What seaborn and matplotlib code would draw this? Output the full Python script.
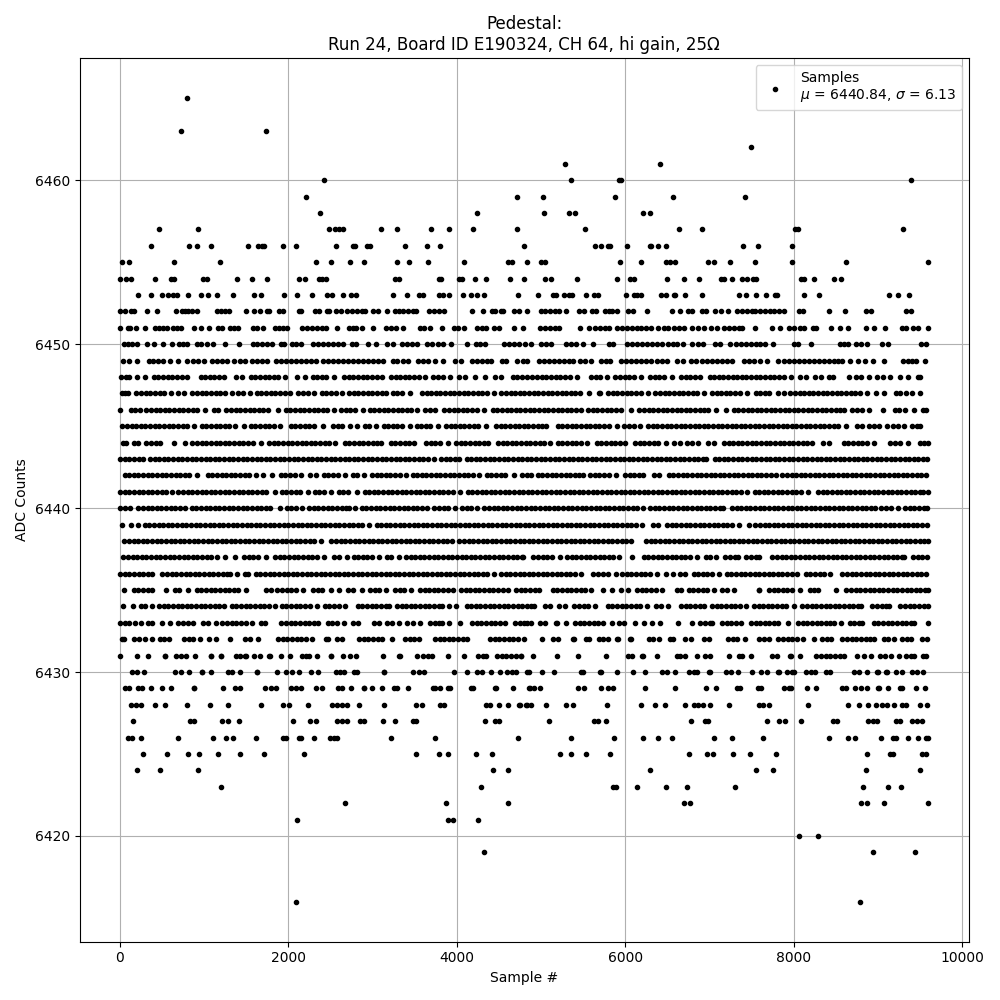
import matplotlib
matplotlib.use('Agg')
import matplotlib.pyplot as plt
import pandas as pd
import seaborn as sns

# sample numbers, one list per ADC level
adc_6465 = [800]
adc_6463 = [728, 1738]
adc_6462 = [7488]
adc_6461 = [5290, 6419]
adc_6460 = [2427, 5362, 5928, 5952, 9389]
adc_6459 = [2213, 4720, 5029, 5885, 6562, 7417]
adc_6458 = [2380, 4245, 5041, 5338, 5409, 6217, 6300]
adc_6457 = [467, 930, 2486, 2558, 2600, 2653, 3104, 3294, 3698, 3912, 4197, 4720, 5528, 6633, 6906, 8011, 8047, 9294]
adc_6456 = [372, 823, 918, 1085, 1524, 1643, 1690, 1714, 1940, 2094, 2570, 2772, 2795, 2938, 2974, 3389, 3651, 3805, 4803, 5647, 5718, 5801, 5825, 6027, 6300, 6312, 6395, 6479, 7393, 7571, 7975]
adc_6455 = [27, 110, 645, 1192, 2332, 2510, 2736, 2902, 3294, 3437, 3663, 4090, 4613, 4661, 4839, 5005, 5053, 5944, 6193, 6490, 6538, 6597, 6978, 7049, 7239, 7536, 7975, 8617, 9600]
adc_6454 = [4, 75, 134, 419, 609, 645, 990, 1037, 1394, 1572, 1750, 2130, 2201, 2368, 2403, 2451, 3271, 3318, 3793, 3817, 4031, 4067, 4221, 4352, 4637, 4803, 5053, 5124, 5433, 5908, 6063, 6110, 6502, 6704, 6871, 7140, 7176, 7263, 7381, 7445, 7512, 7548, 8090, 8125, 8237, 8474, 8558]
adc_6453 = [217, 372, 503, 574, 633, 681, 811, 966, 1049, 1156, 1346, 1596, 1679, 1952, 2106, 2285, 2463, 2522, 2653, 2748, 2807, 3247, 3413, 3556, 3603, 3793, 3841, 3912, 4078, 4173, 4245, 4328, 4732, 4970, 5148, 5184, 5279, 5338, 5374, 5540, 5635, 5683, 6015, 6110, 6146, 6193, 6431, 6490, 6574, 6597, 6716, 6906, 7346, 7429, 7548, 7667, 7773, 7797, 8118, 8296, 9128, 9235, 9365]
adc_6452 = [4, 63, 134, 170, 324, 443, 669, 740, 776, 811, 859, 918, 1156, 1203, 1251, 1298, 1500, 1596, 1667, 1750, 1774, 1892, 1940, 2130, 2154, 2320, 2368, 2463, 2486, 2570, 2629, 2700, 2760, 2820, 2879, 2914, 3009, 3069, 3175, 3271, 3318, 3366, 3425, 3484, 3520, 3674, 3734, 3793, 3853, 4185, 4316, 4423, 4451, 4522, 4554, 4684, 4744, 4839, 5005, 5053, 5112, 5172, 5219, 5302, 5457, 5516, 5611, 5659, 5766, 5813, 5849, 5908, 6039, 6098, 6265, 6550, 6645, 6740, 6799, 6906, 6954, 7061, 7132, 7215, 7326, 7385, 7445, 7504, 7536, 7595, 7655, 7714, 7762, 7821, 7880, 8059, 8106, 8415, 8605, 8855, 8914, 9330, 9389]
adc_6451 = [4, 99, 122, 194, 300, 419, 467, 514, 562, 633, 681, 728, 883, 966, 1061, 1168, 1215, 1310, 1358, 1405, 1584, 1631, 1702, 1845, 1892, 1940, 1984, 2166, 2225, 2285, 2344, 2403, 2455, 2582, 2724, 2772, 2807, 2879, 3009, 3164, 3223, 3282, 3366, 3568, 3615, 3686, 3829, 3971, 4019, 4090, 4237, 4296, 4344, 4447, 4506, 4684, 4791, 4994, 5053, 5112, 5172, 5219, 5465, 5576, 5647, 5706, 5766, 5813, 5908, 5968, 6027, 6087, 6146, 6193, 6253, 6312, 6395, 6455, 6514, 6574, 6633, 6704, 6799, 6859, 6930, 7013, 7084, 7168, 7227, 7286, 7346, 7385, 7536, 7738, 7833, 7940, 7999, 8071, 8118, 8225, 8261, 8447, 8546, 8641, 8855, 8950, 9080, 9282, 9330, 9417, 9476, 9600]
adc_6450 = [51, 99, 146, 205, 324, 407, 514, 621, 705, 752, 800, 918, 966, 1037, 1108, 1251, 1417, 1584, 1631, 1690, 1750, 1809, 1916, 1952, 2047, 2094, 2154, 2296, 2356, 2415, 2475, 2534, 2593, 2653, 2760, 2807, 2950, 3045, 3175, 3247, 3354, 3413, 3473, 3532, 3651, 3710, 3781, 3841, 3936, 4126, 4233, 4280, 4340, 4565, 4625, 4684, 4744, 4815, 4887, 5005, 5065, 5124, 5302, 5362, 5421, 5504, 5623, 5813, 5861, 6027, 6087, 6146, 6205, 6265, 6324, 6383, 6443, 6514, 6562, 6621, 6692, 6799, 6859, 6918, 7061, 7120, 7239, 7310, 7370, 7429, 7488, 7548, 7595, 7655, 7750, 7999, 8047, 8201, 8546, 8593, 8641, 8736, 8795, 8866, 9045, 9116, 9508, 9567]
adc_6449 = [39, 110, 205, 348, 396, 455, 514, 598, 693, 800, 871, 930, 1001, 1097, 1156, 1215, 1275, 1358, 1429, 1489, 1572, 1631, 1690, 1750, 1853, 1912, 1972, 2031, 2090, 2150, 2209, 2269, 2328, 2415, 2475, 2534, 2593, 2653, 2712, 2772, 2831, 2890, 2950, 3009, 3069, 3128, 3247, 3294, 3366, 3425, 3544, 3603, 3663, 3746, 3841, 3983, 4055, 4185, 4245, 4304, 4364, 4403, 4542, 4589, 4720, 4791, 4839, 4982, 5041, 5100, 5160, 5219, 5279, 5338, 5386, 5469, 5528, 5599, 5718, 5778, 5825, 5956, 6015, 6075, 6134, 6193, 6253, 6312, 6383, 6443, 6502, 6621, 6681, 6776, 6835, 6906, 6966, 7025, 7084, 7144, 7203, 7263, 7405, 7465, 7524, 7595, 7686, 7809, 7880, 7940, 7999, 8059, 8118, 8177, 8237, 8296, 8356, 8415, 8474, 8522, 8570, 8665, 8760, 8843, 8938, 9068, 9294, 9354, 9401, 9453, 9555]
adc_6448 = [20, 70, 110, 205, 300, 405, 460, 515, 570, 625, 680, 735, 805, 962, 1015, 1070, 1125, 1180, 1240, 1382, 1453, 1556, 1610, 1665, 1720, 1775, 1830, 1885, 1965, 2100, 2201, 2290, 2345, 2400, 2450, 2548, 2665, 2720, 2775, 2830, 2885, 2940, 2995, 3050, 3115, 3220, 3275, 3330, 3385, 3440, 3495, 3550, 3630, 3722, 3780, 3835, 3925, 4032, 4105, 4221, 4332, 4459, 4521, 4665, 4720, 4775, 4840, 4900, 4955, 5010, 5065, 5120, 5175, 5230, 5285, 5340, 5432, 5596, 5650, 5705, 5780, 5885, 5940, 5995, 6050, 6105, 6192, 6297, 6350, 6405, 6461, 6554, 6665, 6720, 6775, 6830, 6889, 7002, 7055, 7110, 7165, 7220, 7275, 7330, 7385, 7440, 7495, 7550, 7605, 7660, 7715, 7770, 7825, 7880, 7967, 8080, 8144, 8250, 8330, 8420, 8461, 8653, 8744, 8800, 8897, 8990, 9055, 9140, 9266, 9354, 9477, 9500]
adc_6447 = [25, 60, 105, 198, 255, 310, 365, 420, 475, 530, 608, 689, 767, 863, 918, 973, 1028, 1083, 1138, 1193, 1248, 1333, 1410, 1465, 1544, 1628, 1683, 1738, 1793, 1848, 1903, 1958, 2026, 2122, 2177, 2232, 2303, 2400, 2455, 2510, 2565, 2639, 2724, 2779, 2834, 2889, 2944, 2999, 3054, 3109, 3166, 3239, 3294, 3349, 3443, 3588, 3643, 3698, 3753, 3808, 3863, 3918, 3973, 4028, 4083, 4138, 4193, 4248, 4303, 4358, 4441, 4530, 4585, 4640, 4695, 4750, 4805, 4860, 4915, 4970, 5025, 5080, 5135, 5190, 5245, 5300, 5355, 5410, 5465, 5570, 5687, 5697, 5798, 5853, 5908, 5963, 6018, 6073, 6128, 6183, 6271, 6360, 6415, 6470, 6525, 6580, 6635, 6690, 6745, 6800, 6855, 6937, 7029, 7084, 7139, 7194, 7249, 7304, 7359, 7451, 7548, 7603, 7658, 7713, 7808, 7880, 7960, 8015, 8070, 8125, 8180, 8235, 8290, 8345, 8400, 8455, 8510, 8565, 8620, 8675, 8730, 8785, 8865, 8974, 9075, 9211, 9266, 9332, 9405, 9504]
adc_6446 = [4, 131, 186, 244, 317, 372, 427, 482, 537, 592, 647, 702, 757, 812, 867, 922, 1016, 1121, 1163, 1267, 1322, 1377, 1432, 1487, 1542, 1597, 1652, 1707, 1762, 1875, 1972, 2027, 2082, 2137, 2192, 2247, 2302, 2357, 2412, 2467, 2548, 2629, 2684, 2739, 2794, 2889, 2970, 3025, 3080, 3135, 3190, 3245, 3300, 3355, 3410, 3459, 3532, 3627, 3680, 3748, 3853, 3908, 3963, 4018, 4073, 4128, 4183, 4238, 4323, 4427, 4482, 4537, 4592, 4647, 4702, 4757, 4812, 4867, 4922, 4977, 5032, 5087, 5142, 5197, 5252, 5307, 5362, 5417, 5479, 5560, 5615, 5670, 5725, 5780, 5835, 5890, 5945, 6073, 6170, 6225, 6280, 6335, 6390, 6445, 6500, 6555, 6610, 6665, 6720, 6775, 6830, 6885, 6940, 6984, 7081, 7194, 7287, 7342, 7397, 7452, 7507, 7562, 7617, 7672, 7727, 7782, 7837, 7892, 7947, 8002, 8057, 8112, 8167, 8222, 8277, 8332, 8387, 8442, 8497, 8552, 8600, 8696, 8751, 8806, 8897, 9064, 9200, 9255, 9324, 9425, 9536, 9570]
adc_6445 = [32, 87, 142, 197, 252, 307, 362, 417, 472, 527, 582, 637, 692, 747, 802, 877, 974, 1029, 1084, 1139, 1194, 1249, 1304, 1372, 1477, 1556, 1611, 1666, 1721, 1776, 1831, 1907, 2032, 2087, 2142, 2197, 2252, 2307, 2414, 2534, 2589, 2644, 2739, 2819, 2907, 2962, 3040, 3132, 3187, 3242, 3297, 3352, 3443, 3524, 3579, 3634, 3689, 3776, 3873, 3928, 3983, 4038, 4093, 4148, 4203, 4258, 4354, 4467, 4522, 4577, 4632, 4687, 4742, 4797, 4852, 4907, 4962, 5017, 5056, 5200, 5255, 5310, 5365, 5420, 5475, 5530, 5585, 5640, 5695, 5750, 5805, 5899, 5992, 6047, 6102, 6172, 6273, 6328, 6383, 6438, 6493, 6548, 6603, 6658, 6713, 6768, 6823, 6878, 6933, 6988, 7043, 7098, 7153, 7208, 7263, 7318, 7373, 7428, 7483, 7538, 7593, 7648, 7703, 7758, 7813, 7868, 7923, 7978, 8033, 8088, 8143, 8198, 8253, 8308, 8363, 8418, 8473, 8528, 8620, 8756, 8814, 8895, 8950, 9015, 9108, 9180, 9235, 9312, 9409, 9464, 9503]
adc_6444 = [44, 77, 170, 224, 317, 372, 427, 482, 640, 772, 863, 918, 973, 1028, 1083, 1138, 1193, 1248, 1303, 1358, 1413, 1468, 1523, 1578, 1677, 1774, 1829, 1884, 1939, 1994, 2049, 2104, 2159, 2214, 2269, 2324, 2379, 2434, 2489, 2560, 2673, 2728, 2783, 2838, 2893, 2948, 3003, 3058, 3103, 3219, 3274, 3329, 3384, 3439, 3499, 3635, 3690, 3745, 3800, 3895, 3992, 4047, 4102, 4157, 4212, 4267, 4322, 4370, 4490, 4545, 4600, 4655, 4710, 4765, 4820, 4875, 4930, 4985, 5040, 5107, 5200, 5255, 5310, 5365, 5420, 5475, 5551, 5663, 5718, 5773, 5828, 5883, 5938, 6002, 6119, 6174, 6229, 6284, 6339, 6394, 6489, 6578, 6648, 6736, 6791, 6869, 6986, 7055, 7172, 7227, 7282, 7337, 7392, 7447, 7502, 7557, 7612, 7667, 7722, 7777, 7832, 7887, 7942, 7997, 8052, 8107, 8162, 8212, 8348, 8422, 8594, 8649, 8704, 8759, 8814, 8869, 8948, 9148, 9203, 9258, 9360, 9496, 9551, 9590]
adc_6443 = [5, 60, 115, 170, 225, 272, 360, 415, 470, 525, 580, 635, 690, 745, 800, 855, 910, 965, 1020, 1075, 1130, 1185, 1240, 1295, 1350, 1405, 1460, 1515, 1570, 1625, 1680, 1735, 1790, 1845, 1900, 1955, 2010, 2065, 2120, 2175, 2230, 2285, 2340, 2395, 2450, 2505, 2560, 2615, 2670, 2725, 2780, 2835, 2890, 2945, 3000, 3055, 3110, 3165, 3220, 3275, 3330, 3385, 3440, 3495, 3550, 3605, 3660, 3737, 3813, 3868, 3923, 3978, 4025, 4118, 4173, 4228, 4283, 4338, 4393, 4448, 4503, 4558, 4613, 4668, 4723, 4778, 4833, 4888, 4943, 4998, 5053, 5108, 5163, 5218, 5273, 5328, 5383, 5438, 5493, 5548, 5603, 5658, 5713, 5768, 5823, 5878, 5933, 5988, 6043, 6098, 6153, 6208, 6263, 6318, 6373, 6428, 6483, 6538, 6593, 6648, 6703, 6758, 6813, 6868, 6923, 6964, 7061, 7116, 7171, 7226, 7281, 7336, 7391, 7446, 7501, 7556, 7611, 7666, 7721, 7776, 7831, 7886, 7941, 7996, 8051, 8106, 8161, 8216, 8271, 8326, 8381, 8436, 8491, 8546, 8601, 8656, 8711, 8766, 8821, 8876, 8931, 8986, 9041, 9096, 9151, 9206, 9261, 9316, 9371, 9426, 9481, 9536, 9585]
adc_6442 = [59, 114, 169, 224, 279, 334, 389, 444, 499, 554, 609, 664, 719, 774, 829, 917, 1045, 1100, 1155, 1210, 1265, 1320, 1375, 1430, 1485, 1540, 1618, 1707, 1804, 1913, 1968, 2023, 2085, 2154, 2257, 2331, 2423, 2478, 2533, 2588, 2671, 2768, 2823, 2897, 2994, 3049, 3104, 3159, 3214, 3269, 3324, 3396, 3477, 3532, 3587, 3642, 3697, 3752, 3807, 3862, 3917, 3972, 4027, 4082, 4137, 4192, 4263, 4356, 4411, 4466, 4521, 4576, 4679, 4776, 4837, 4877, 4962, 5017, 5072, 5127, 5182, 5237, 5292, 5347, 5402, 5457, 5503, 5584, 5639, 5694, 5749, 5804, 5887, 6000, 6055, 6110, 6165, 6216, 6340, 6406, 6518, 6573, 6628, 6683, 6738, 6793, 6848, 6903, 6958, 7013, 7068, 7123, 7178, 7233, 7288, 7343, 7398, 7453, 7508, 7563, 7618, 7673, 7728, 7788, 7865, 7920, 7975, 8030, 8085, 8140, 8195, 8250, 8305, 8360, 8415, 8470, 8525, 8580, 8635, 8690, 8745, 8800, 8855, 8910, 8965, 9020, 9075, 9130, 9185, 9240, 9295, 9350, 9405, 9460, 9515, 9570]
adc_6441 = [5, 60, 115, 170, 225, 280, 335, 390, 445, 500, 555, 616, 697, 752, 807, 862, 917, 972, 1027, 1082, 1137, 1192, 1247, 1302, 1357, 1412, 1467, 1522, 1577, 1632, 1687, 1742, 1840, 1924, 1979, 2034, 2089, 2144, 2232, 2313, 2368, 2423, 2509, 2598, 2653, 2708, 2818, 2907, 2962, 3017, 3072, 3127, 3182, 3237, 3292, 3347, 3402, 3457, 3512, 3567, 3622, 3677, 3732, 3787, 3842, 3897, 3952, 4037, 4130, 4185, 4240, 4295, 4350, 4405, 4460, 4515, 4570, 4625, 4680, 4735, 4790, 4845, 4900, 4955, 5010, 5065, 5120, 5175, 5230, 5285, 5340, 5395, 5450, 5505, 5560, 5615, 5670, 5725, 5780, 5835, 5890, 5945, 6000, 6055, 6110, 6165, 6220, 6275, 6330, 6385, 6440, 6495, 6550, 6605, 6660, 6715, 6770, 6825, 6880, 6935, 6990, 7045, 7100, 7155, 7210, 7265, 7320, 7375, 7443, 7536, 7591, 7646, 7701, 7756, 7811, 7866, 7921, 7976, 8031, 8086, 8164, 8289, 8344, 8399, 8454, 8509, 8564, 8619, 8674, 8729, 8784, 8839, 8894, 8949, 9004, 9059, 9114, 9169, 9224, 9279, 9334, 9389, 9444, 9499, 9530, 9600]
adc_6440 = [5, 60, 129, 222, 277, 332, 387, 442, 497, 552, 607, 662, 717, 778, 855, 910, 965, 1020, 1075, 1130, 1185, 1240, 1295, 1350, 1405, 1460, 1515, 1570, 1625, 1680, 1735, 1790, 1899, 1984, 2039, 2094, 2164, 2249, 2304, 2359, 2414, 2469, 2524, 2579, 2634, 2689, 2719, 2791, 2875, 2930, 2985, 3040, 3095, 3150, 3205, 3260, 3315, 3370, 3425, 3480, 3535, 3590, 3649, 3734, 3789, 3844, 3899, 3978, 4063, 4118, 4173, 4244, 4328, 4383, 4438, 4493, 4548, 4603, 4658, 4713, 4768, 4823, 4878, 4933, 4988, 5043, 5098, 5153, 5208, 5263, 5318, 5373, 5428, 5483, 5538, 5593, 5648, 5703, 5758, 5813, 5868, 5923, 5978, 6033, 6088, 6143, 6216, 6297, 6352, 6407, 6462, 6517, 6572, 6627, 6682, 6737, 6792, 6847, 6902, 6957, 7012, 7067, 7122, 7166, 7267, 7322, 7377, 7432, 7487, 7542, 7597, 7652, 7707, 7762, 7817, 7872, 7927, 7982, 8037, 8092, 8147, 8202, 8257, 8312, 8367, 8422, 8477, 8532, 8587, 8642, 8697, 8752, 8807, 8862, 8917, 8964, 9041, 9096, 9151, 9233, 9322, 9377, 9432, 9487, 9542, 9585]
adc_6439 = [27, 131, 216, 297, 352, 407, 462, 517, 572, 627, 682, 737, 792, 847, 902, 957, 1012, 1067, 1122, 1177, 1232, 1287, 1342, 1397, 1452, 1507, 1562, 1617, 1672, 1727, 1782, 1837, 1892, 1947, 2002, 2057, 2112, 2167, 2222, 2277, 2332, 2387, 2442, 2497, 2552, 2607, 2662, 2717, 2772, 2827, 2882, 2956, 3049, 3104, 3159, 3214, 3269, 3324, 3379, 3434, 3489, 3544, 3599, 3654, 3709, 3764, 3819, 3874, 3929, 3984, 4039, 4094, 4149, 4204, 4259, 4314, 4369, 4424, 4479, 4534, 4589, 4644, 4699, 4754, 4809, 4864, 4919, 4974, 5029, 5084, 5139, 5194, 5249, 5304, 5359, 5414, 5469, 5524, 5579, 5634, 5689, 5744, 5799, 5854, 5909, 5964, 6019, 6074, 6129, 6204, 6336, 6395, 6499, 6554, 6609, 6664, 6719, 6774, 6829, 6884, 6939, 6994, 7049, 7104, 7159, 7214, 7269, 7352, 7465, 7544, 7599, 7654, 7709, 7764, 7819, 7874, 7929, 7984, 8039, 8094, 8149, 8204, 8259, 8314, 8369, 8424, 8479, 8534, 8589, 8644, 8699, 8754, 8809, 8864, 8919, 8974, 9029, 9084, 9139, 9194, 9249, 9304, 9359, 9414, 9469, 9524, 9585]
adc_6438 = [55, 110, 165, 220, 275, 330, 385, 440, 495, 550, 605, 660, 715, 770, 825, 880, 935, 990, 1045, 1100, 1155, 1210, 1265, 1320, 1375, 1430, 1485, 1540, 1595, 1650, 1705, 1760, 1815, 1870, 1925, 1980, 2035, 2090, 2145, 2200, 2255, 2310, 2390, 2514, 2569, 2624, 2679, 2734, 2789, 2844, 2899, 2954, 3009, 3064, 3119, 3174, 3229, 3284, 3339, 3394, 3449, 3504, 3559, 3614, 3669, 3724, 3779, 3834, 3889, 3947, 4032, 4087, 4142, 4197, 4252, 4307, 4362, 4417, 4472, 4527, 4582, 4637, 4692, 4747, 4802, 4857, 4912, 4967, 5022, 5077, 5132, 5187, 5242, 5297, 5352, 5407, 5462, 5517, 5572, 5627, 5682, 5737, 5792, 5847, 5902, 5957, 6012, 6073, 6249, 6304, 6359, 6414, 6469, 6524, 6579, 6634, 6689, 6744, 6799, 6854, 6909, 6964, 7019, 7074, 7129, 7184, 7239, 7294, 7349, 7404, 7459, 7514, 7569, 7624, 7679, 7734, 7789, 7844, 7899, 7954, 8009, 8064, 8119, 8174, 8229, 8284, 8339, 8394, 8449, 8504, 8559, 8614, 8669, 8724, 8779, 8834, 8889, 8944, 8999, 9054, 9109, 9164, 9219, 9274, 9329, 9384, 9439, 9494, 9549, 9590]
adc_6437 = [44, 99, 154, 209, 264, 319, 374, 429, 484, 539, 594, 649, 704, 759, 814, 869, 924, 979, 1034, 1089, 1155, 1247, 1369, 1477, 1532, 1587, 1642, 1737, 1845, 1900, 1955, 2010, 2065, 2120, 2175, 2230, 2285, 2340, 2430, 2542, 2600, 2699, 2776, 2831, 2886, 2941, 2996, 3075, 3168, 3223, 3313, 3398, 3453, 3508, 3563, 3618, 3673, 3728, 3783, 3838, 3893, 3948, 4003, 4058, 4113, 4168, 4223, 4278, 4333, 4388, 4443, 4498, 4553, 4608, 4663, 4718, 4773, 4790, 4911, 4966, 5021, 5076, 5131, 5226, 5311, 5366, 5421, 5476, 5531, 5586, 5641, 5696, 5751, 5806, 5861, 5927, 6087, 6221, 6276, 6331, 6386, 6441, 6496, 6551, 6606, 6661, 6716, 6771, 6857, 6954, 7009, 7075, 7188, 7243, 7298, 7341, 7437, 7492, 7547, 7590, 7746, 7801, 7856, 7911, 7966, 8021, 8076, 8131, 8186, 8241, 8296, 8351, 8406, 8461, 8516, 8571, 8626, 8681, 8736, 8791, 8846, 8901, 8956, 9011, 9066, 9121, 9176, 9231, 9286, 9312, 9417, 9472, 9527, 9582]
adc_6436 = [5, 60, 115, 170, 225, 280, 335, 382, 507, 562, 617, 672, 727, 782, 837, 892, 947, 1002, 1057, 1112, 1167, 1222, 1277, 1313, 1397, 1485, 1519, 1616, 1671, 1726, 1781, 1836, 1891, 1946, 2001, 2056, 2111, 2166, 2221, 2276, 2331, 2386, 2441, 2496, 2551, 2606, 2661, 2716, 2771, 2826, 2881, 2936, 2991, 3046, 3101, 3156, 3211, 3266, 3321, 3376, 3431, 3486, 3541, 3596, 3651, 3706, 3761, 3816, 3871, 3926, 3981, 4036, 4091, 4146, 4201, 4256, 4311, 4366, 4441, 4526, 4581, 4636, 4691, 4746, 4801, 4856, 4911, 4966, 5021, 5076, 5131, 5186, 5241, 5296, 5351, 5406, 5471, 5624, 5679, 5734, 5796, 5888, 5964, 6019, 6074, 6129, 6184, 6239, 6294, 6382, 6486, 6566, 6653, 6711, 6812, 6867, 6922, 6977, 7032, 7115, 7207, 7262, 7317, 7372, 7427, 7482, 7537, 7592, 7647, 7702, 7757, 7812, 7867, 7922, 7977, 8038, 8142, 8197, 8252, 8307, 8362, 8434, 8578, 8633, 8688, 8743, 8798, 8853, 8908, 8963, 9018, 9073, 9128, 9183, 9238, 9293, 9348, 9403, 9458, 9513, 9568]
adc_6435 = [51, 166, 221, 276, 331, 386, 545, 653, 707, 806, 915, 970, 1025, 1080, 1135, 1190, 1245, 1300, 1355, 1410, 1503, 1738, 1798, 1873, 1928, 1983, 2038, 2093, 2172, 2297, 2352, 2407, 2509, 2605, 2716, 2771, 2877, 2974, 3029, 3084, 3162, 3271, 3326, 3381, 3459, 3564, 3619, 3674, 3729, 3784, 3839, 3894, 3954, 4051, 4106, 4161, 4216, 4271, 4326, 4381, 4436, 4491, 4546, 4608, 4704, 4759, 4814, 4869, 4924, 4976, 5140, 5195, 5250, 5305, 5360, 5415, 5470, 5525, 5598, 5734, 5848, 5952, 6038, 6142, 6197, 6252, 6307, 6362, 6438, 6617, 6659, 6756, 6811, 6866, 6921, 6976, 7055, 7152, 7207, 7293, 7588, 7594, 7706, 7761, 7816, 7871, 7926, 7981, 8077, 8190, 8245, 8291, 8498, 8625, 8680, 8735, 8790, 8845, 8900, 8955, 9010, 9065, 9120, 9175, 9230, 9285, 9340, 9395, 9450, 9505, 9560, 9590]
adc_6434 = [39, 158, 249, 304, 382, 467, 522, 577, 632, 687, 742, 797, 852, 907, 962, 1017, 1072, 1127, 1182, 1242, 1331, 1386, 1441, 1496, 1551, 1606, 1661, 1716, 1771, 1840, 1924, 1979, 2034, 2089, 2144, 2199, 2256, 2344, 2435, 2490, 2545, 2600, 2675, 2827, 2882, 2937, 2992, 3047, 3102, 3157, 3194, 3291, 3346, 3401, 3456, 3511, 3566, 3621, 3676, 3731, 3786, 3828, 3908, 3995, 4118, 4173, 4228, 4283, 4338, 4393, 4448, 4503, 4558, 4613, 4668, 4723, 4778, 4833, 4888, 4917, 5049, 5107, 5219, 5287, 5398, 5453, 5508, 5563, 5642, 5794, 5849, 5904, 5959, 6014, 6069, 6124, 6179, 6255, 6368, 6431, 6514, 6665, 6720, 6775, 6830, 6885, 6937, 7033, 7088, 7143, 7198, 7253, 7308, 7363, 7432, 7528, 7583, 7638, 7693, 7748, 7803, 7858, 7913, 8006, 8103, 8158, 8213, 8268, 8323, 8378, 8433, 8488, 8543, 8598, 8653, 8708, 8763, 8798, 8934, 8989, 9044, 9099, 9135, 9267, 9322, 9377, 9432, 9487, 9542, 9590]
adc_6433 = [5, 60, 115, 184, 253, 337, 382, 507, 600, 697, 752, 807, 869, 990, 1049, 1144, 1220, 1275, 1330, 1385, 1440, 1495, 1570, 1675, 1721, 1921, 1976, 2031, 2086, 2141, 2196, 2251, 2306, 2351, 2471, 2526, 2581, 2667, 2772, 2831, 3021, 3083, 3172, 3227, 3313, 3405, 3484, 3564, 3683, 3738, 3793, 3828, 3912, 4039, 4182, 4237, 4292, 4347, 4402, 4457, 4512, 4572, 4693, 4748, 4803, 4837, 4886, 4990, 5044, 5180, 5194, 5302, 5406, 5461, 5516, 5571, 5626, 5681, 5741, 5841, 5932, 5986, 6114, 6229, 6324, 6419, 6629, 6799, 6891, 6946, 7001, 7036, 7152, 7207, 7262, 7317, 7380, 7493, 7548, 7603, 7658, 7713, 7768, 7808, 7928, 8051, 8106, 8161, 8216, 8271, 8326, 8381, 8436, 8473, 8558, 8665, 8720, 8775, 8806, 8950, 9005, 9060, 9115, 9170, 9225, 9280, 9335, 9390, 9423, 9591]
adc_6432 = [30, 55, 170, 225, 303, 388, 475, 530, 592, 764, 819, 874, 949, 1061, 1147, 1306, 1489, 1544, 1646, 1881, 1936, 1991, 2046, 2101, 2156, 2211, 2287, 2455, 2469, 2582, 2641, 2843, 2898, 2953, 3008, 3063, 3118, 3234, 3386, 3441, 3496, 3558, 3742, 3797, 3852, 3907, 3962, 4017, 4072, 4117, 4396, 4451, 4506, 4561, 4616, 4671, 4726, 4798, 5017, 5148, 5207, 5378, 5392, 5536, 5570, 5687, 5742, 5796, 5901, 5915, 6063, 6065, 6281, 6336, 6398, 6534, 6572, 6709, 6778, 6938, 6996, 7219, 7274, 7329, 7420, 7588, 7643, 7709, 7817, 7872, 7927, 7982, 8037, 8109, 8237, 8340, 8395, 8441, 8578, 8633, 8688, 8743, 8798, 8853, 8908, 8956, 9069, 9124, 9194, 9290, 9345, 9392, 9528, 9583]
adc_6431 = [4, 205, 336, 535, 542, 669, 724, 788, 891, 1081, 1088, 1200, 1207, 1378, 1433, 1488, 1500, 1596, 1663, 1770, 1789, 1916, 2023, 2162, 2217, 2245, 2348, 2507, 2514, 2653, 2736, 2807, 3128, 3314, 3322, 3532, 3603, 3663, 3710, 3900, 4090, 4253, 4308, 4343, 4479, 4534, 4589, 4644, 4699, 4759, 4768, 4910, 5196, 5445, 5778, 6035, 6078, 6202, 6217, 6376, 6621, 6653, 6708, 6847, 6950, 7009, 7231, 7346, 7381, 7488, 7746, 7801, 7960, 7967, 8071, 8269, 8324, 8379, 8434, 8489, 8544, 8601, 8748, 8831, 8914, 9029, 9084, 9155, 9247, 9338, 9393, 9432, 9536, 9568]
adc_6430 = [150, 205, 284, 657, 728, 823, 974, 981, 1085, 1283, 1338, 1429, 1628, 1635, 1869, 1976, 2047, 2130, 2269, 2359, 2566, 2621, 2668, 2780, 2823, 3136, 3143, 3484, 3556, 3615, 3971, 4122, 4241, 4296, 4403, 4518, 4601, 4661, 4708, 4839, 4855, 5017, 5160, 5477, 5496, 5703, 5710, 5908, 6098, 6241, 6439, 6494, 6589, 6760, 6815, 6847, 6998, 7005, 7200, 7255, 7334, 7500, 7615, 7682, 7817, 7825, 7924, 7979, 8003, 8150, 8205, 8252, 8388, 8431, 8720, 8775, 8870, 8993, 9001, 9100, 9108, 9219, 9286, 9409, 9464, 9535]
adc_6429 = [63, 110, 222, 268, 376, 503, 609, 879, 886, 1227, 1366, 1433, 1726, 1798, 1857, 2035, 2094, 2154, 2328, 2407, 2590, 2645, 2748, 2899, 2906, 2997, 3116, 3259, 3294, 3425, 3722, 3746, 3805, 3900, 3924, 4170, 4189, 4455, 4462, 4672, 4862, 4875, 4922, 4994, 5445, 5516, 5715, 5798, 5852, 6241, 6597, 6954, 7073, 7330, 7362, 7572, 7607, 7889, 7944, 7967, 8154, 8261, 8570, 8617, 8724, 8795, 8874, 9001, 9017, 9116, 9259, 9286, 9449, 9559]
adc_6428 = [134, 194, 253, 419, 538, 800, 1073, 1287, 1679, 1940, 2011, 2237, 2522, 2582, 2641, 2700, 2843, 3140, 3520, 3591, 3805, 3853, 4352, 4399, 4506, 4613, 4744, 4831, 4752, 4827, 4887, 5065, 5302, 5386, 5790, 6193, 6360, 6467, 6716, 6819, 6859, 6918, 7001, 7227, 7583, 7631, 7702, 8166, 8641, 8772, 8886, 8973, 9045, 9104, 9191, 9282, 9334, 9496, 9579]
adc_6427 = [158, 835, 883, 1215, 1287, 1417, 2059, 2261, 2332, 2582, 2641, 2700, 2855, 2902, 3128, 3271, 3484, 3520, 4340, 4459, 4506, 5100, 5635, 5683, 5778, 6787, 6942, 6989, 7678, 7821, 7892, 8083, 8463, 8510, 8878, 8938, 8985, 9211, 9258, 9405, 9464, 9524]
adc_6426 = [99, 146, 253, 693, 1108, 1263, 1346, 1619, 1940, 1976, 2130, 2154, 2308, 2498, 2546, 2582, 3223, 3746, 4732, 5362, 5873, 6217, 6395, 6550, 7049, 7263, 7631, 8415, 8641, 8724, 9033, 9175, 9211, 9354, 9472, 9567, 9600]
adc_6425 = [277, 562, 811, 942, 1168, 1429, 1714, 2189, 3520, 3793, 3900, 4233, 4423, 5231, 5362, 5540, 5825, 6752, 6966, 7037, 7275, 7476, 7785, 8866, 9140, 9175, 9520, 9567]
adc_6424 = [206, 479, 930, 4435, 4613, 6300, 7548, 7750, 8855, 9496]
adc_6423 = [1203, 4292, 5861, 5896, 6146, 6479, 6728, 7298, 8819, 9116, 9270]
adc_6422 = [2677, 3876, 4613, 6700, 6764, 8795, 8866, 9068, 9591]
adc_6421 = [2106, 3900, 3960, 4257]
adc_6420 = [8059, 8284]
adc_6419 = [4328, 8938, 9437]
adc_6416 = [2094, 8783]

rows = [
    (6465, adc_6465), (6463, adc_6463), (6462, adc_6462), (6461, adc_6461), (6460, adc_6460),
    (6459, adc_6459), (6458, adc_6458), (6457, adc_6457), (6456, adc_6456), (6455, adc_6455),
    (6454, adc_6454), (6453, adc_6453), (6452, adc_6452), (6451, adc_6451), (6450, adc_6450),
    (6449, adc_6449), (6448, adc_6448), (6447, adc_6447), (6446, adc_6446), (6445, adc_6445),
    (6444, adc_6444), (6443, adc_6443), (6442, adc_6442), (6441, adc_6441), (6440, adc_6440),
    (6439, adc_6439), (6438, adc_6438), (6437, adc_6437), (6436, adc_6436), (6435, adc_6435),
    (6434, adc_6434), (6433, adc_6433), (6432, adc_6432), (6431, adc_6431), (6430, adc_6430),
    (6429, adc_6429), (6428, adc_6428), (6427, adc_6427), (6426, adc_6426), (6425, adc_6425),
    (6424, adc_6424), (6423, adc_6423), (6422, adc_6422), (6421, adc_6421), (6420, adc_6420),
    (6419, adc_6419), (6416, adc_6416),
]
df = pd.DataFrame(
    [(s, level) for level, samples in rows for s in samples],
    columns=['sample', 'adc'],
)

fig, ax = plt.subplots(figsize=(10, 10), dpi=100)
sns.scatterplot(data=df, x='sample', y='adc', color='black', marker='.', s=36,
                edgecolor='black', linewidth=1, zorder=3, ax=ax,
                label='Samples\n$\\mu$ = 6440.84, $\\sigma$ = 6.13')
ax.margins(0.05)
ax.set_title('Pedestal:\nRun 24, Board ID E190324, CH 64, hi gain, 25Ω')
ax.set_xlabel('Sample #')
ax.set_ylabel('ADC Counts')
ax.grid(True)
ax.legend(loc='upper right')
plt.tight_layout()
plt.savefig('out.png')
